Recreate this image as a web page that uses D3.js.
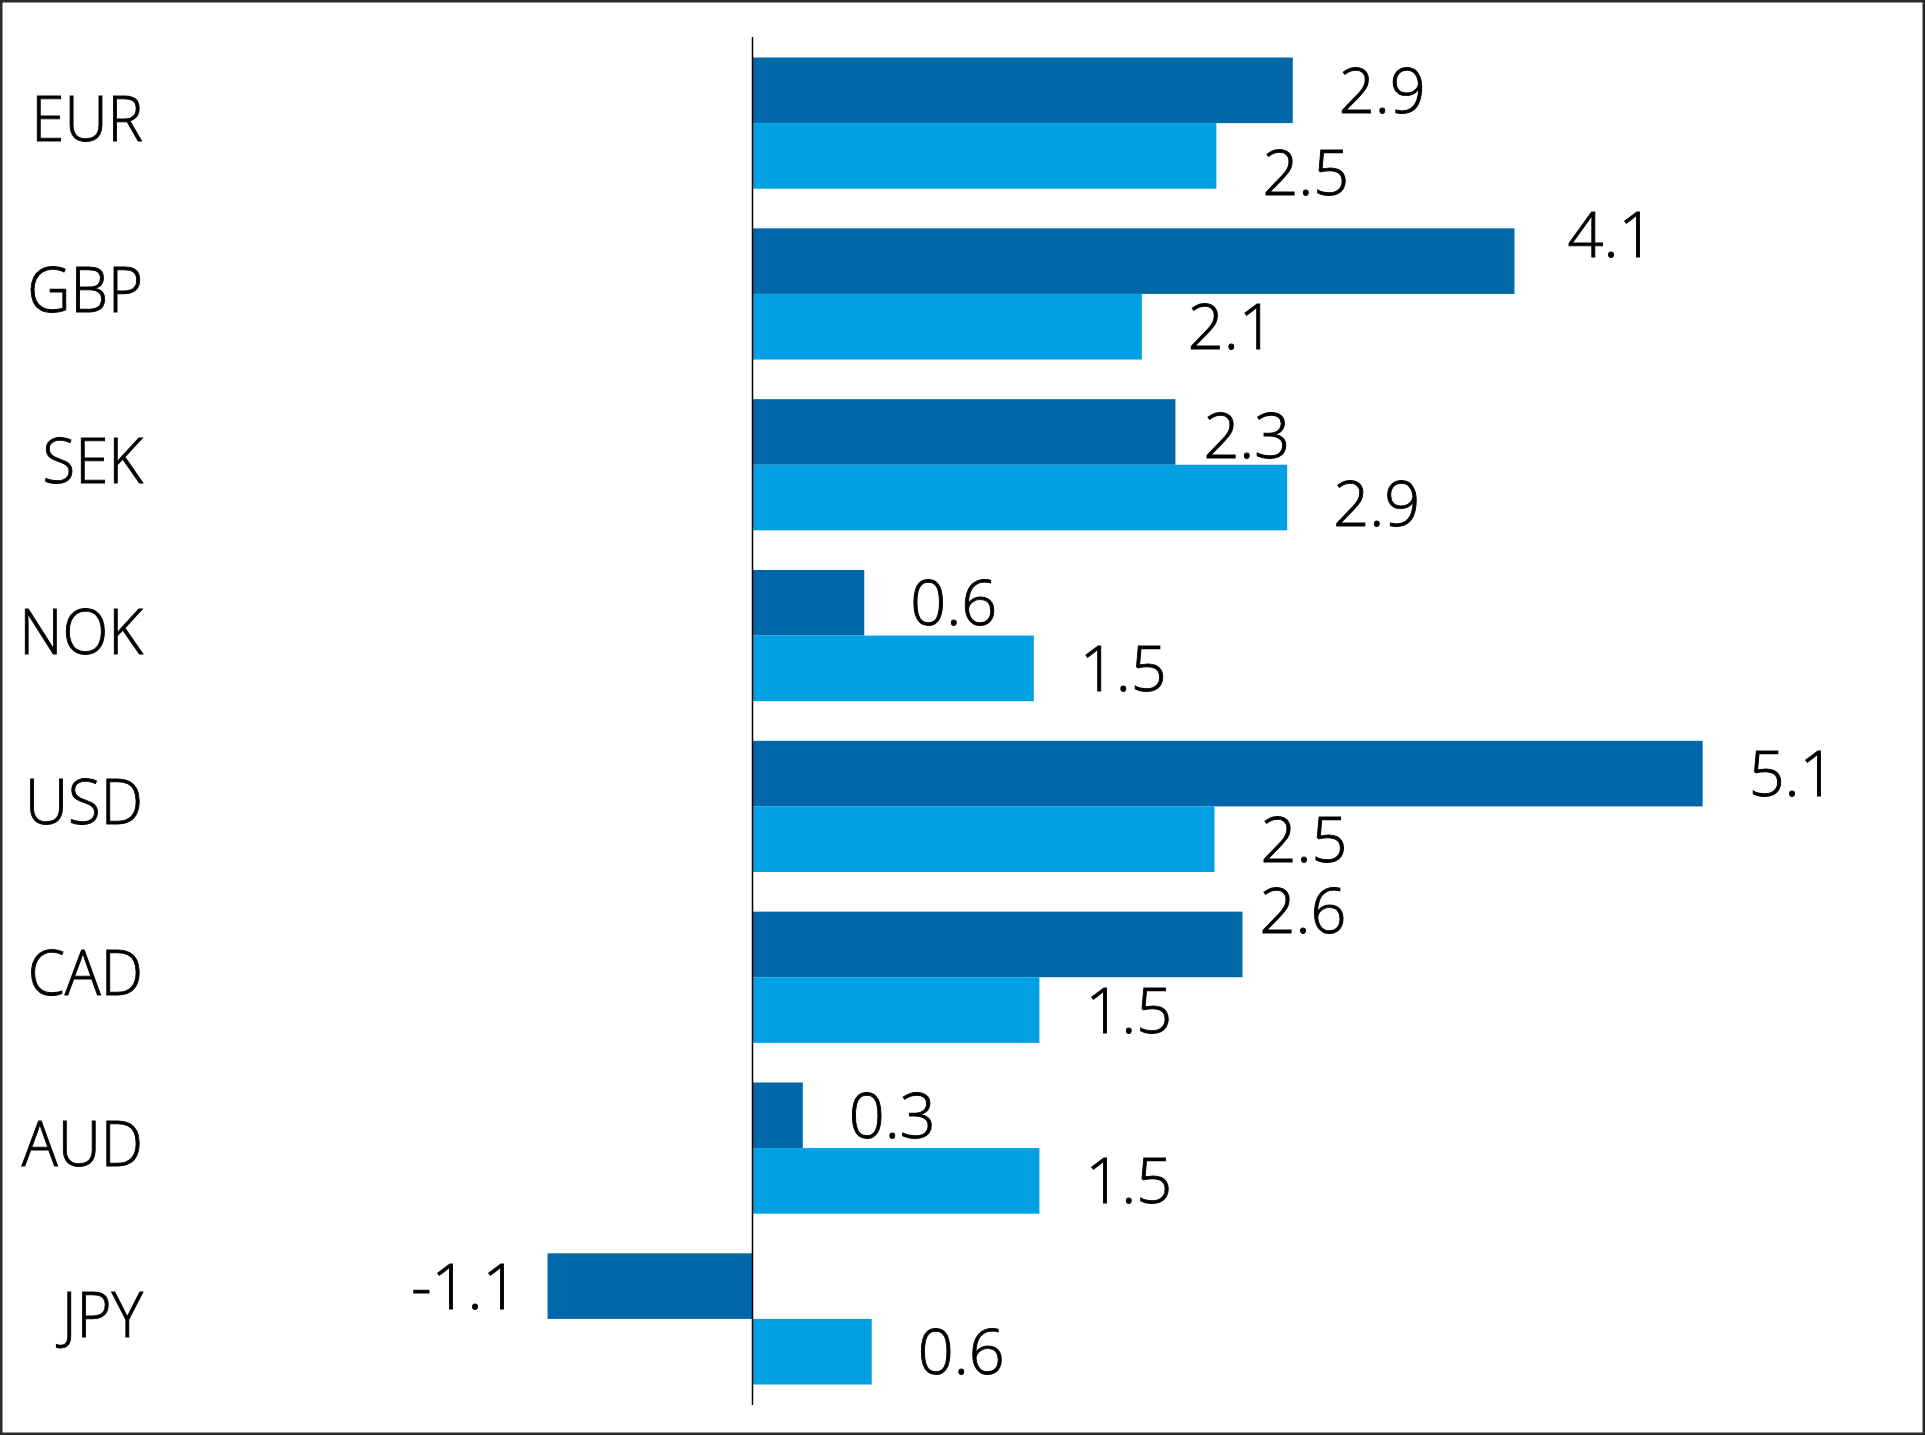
<!DOCTYPE html>
<html>
<head>
<meta charset="utf-8">
<script src="https://cdn.jsdelivr.net/npm/d3@7"></script>
<style>
    body { margin: 0; background: #fff; }
    svg { display: block; }
</style>
</head>
<body>
<div id="chart"></div>
<script>
// Currency categories, top to bottom
var currencies = ['EUR', 'GBP', 'SEK', 'NOK', 'USD', 'CAD', 'AUD', 'JPY'];
// First series (dark blue bars)
var seriesDark = [2.90, 4.09, 2.27, 0.60, 5.10, 2.63, 0.27, -1.10];
// Second series (light blue bars)
var seriesLight = [2.49, 2.09, 2.87, 1.51, 2.48, 1.54, 1.54, 0.64];

// Manual label nudges (dx, dy in px) where the original labels were moved
var labelNudge = {
    'EUR-1': [0, 17],
    'GBP-0': [7, -27],
    'SEK-0': [-18, 4],
    'SEK-1': [0, 6],
    'CAD-0': [-29, -34]
};

/* Draws a grouped horizontal bar chart with value labels
*/
class GroupedBarChart {
    constructor(selector, params) {
        this.width = params.width;
        this.height = params.height;
        this.colors = params.colors;
        this.fontFamily = params.fontFamily;
        this.fontSize = params.fontSize;

        this.svg = d3.select(selector)
            .append('svg')
            .attr('width', this.width)
            .attr('height', this.height);

        // Build the rows from the top level arrays
        this.rows = currencies.map(function(c, i) {
            return { cur: c, values: [seriesDark[i], seriesLight[i]] };
        });

        // One band per currency, spanning the zero line
        this.yScale = d3.scaleBand()
            .domain(currencies)
            .range([37, 1405])
            .paddingInner(0.232)
            .paddingOuter(0.12);

        // Two sub bands inside each currency
        this.subScale = d3.scaleBand()
            .domain([0, 1])
            .range([0, this.yScale.bandwidth()]);

        // Value scale, zero sits at x = 752.5
        this.xScale = d3.scaleLinear()
            .domain([-4, 6])
            .range([752.5 - 4 * 186.3, 752.5 + 6 * 186.3]);
    }

    drawFrame() {
        this.svg.append('rect')
            .attr('x', 1.25)
            .attr('y', 1.25)
            .attr('width', this.width - 2.5)
            .attr('height', this.height - 2.5)
            .attr('fill', '#fff')
            .attr('stroke', '#2b2b2b')
            .attr('stroke-width', 2.5);
    }

    drawBars() {
        var x = this.xScale, y = this.yScale, sub = this.subScale,
            colors = this.colors;

        var groups = this.svg.selectAll('g.row')
            .data(this.rows)
            .enter()
            .append('g')
            .classed('row', true)
            .attr('transform', function(d) { return 'translate(0,' + y(d.cur) + ')'; });

        groups.selectAll('rect')
            .data(function(d) { return d.values; })
            .enter()
            .append('rect')
            .attr('x', function(v) { return x(Math.min(0, v)); })
            .attr('y', function(v, i) { return sub(i); })
            .attr('width', function(v) { return Math.abs(x(v) - x(0)); })
            .attr('height', sub.bandwidth())
            .attr('fill', function(v, i) { return colors[i]; });
    }

    // Shared text styling: light face with a hairline stroke to thicken it
    styleText(sel) {
        sel.attr('font-family', this.fontFamily)
            .attr('font-weight', 300)
            .attr('font-size', this.fontSize + 'px')
            .attr('fill', '#000')
            .attr('stroke', '#000')
            .attr('stroke-width', 0.9);
    }

    drawValueLabels() {
        var x = this.xScale, y = this.yScale, sub = this.subScale;

        var labels = [];
        this.rows.forEach(function(r) {
            r.values.forEach(function(v, i) {
                labels.push({ cur: r.cur, idx: i, v: v });
            });
        });

        this.svg.append('g')
            .selectAll('text')
            .data(labels)
            .enter()
            .append('text')
            // Plain hyphen for negatives, as in the original
            .text(function(d) { return d.v.toFixed(1); })
            .attr('x', function(d) {
                var n = labelNudge[d.cur + '-' + d.idx] || [0, 0];
                return d.v >= 0 ? x(d.v) + 46 + n[0] : x(d.v) - 29 + n[0];
            })
            .attr('y', function(d) {
                var n = labelNudge[d.cur + '-' + d.idx] || [0, 0];
                return y(d.cur) + sub(d.idx) + sub.bandwidth() / 2 + 22.5 + n[1];
            })
            .attr('text-anchor', function(d) { return d.v >= 0 ? 'start' : 'end'; })
            .call(this.styleText.bind(this));
    }

    drawCategoryLabels() {
        var y = this.yScale;
        this.svg.append('g')
            .selectAll('text')
            .data(currencies)
            .enter()
            .append('text')
            .text(function(d) { return d; })
            // Squeeze the labels a bit, the original face is narrower
            .attr('transform', function(d) {
                return 'translate(143,' + (y(d) + y.bandwidth() / 2 + 18) + ') scale(0.95,1)';
            })
            .attr('text-anchor', 'end')
            .call(this.styleText.bind(this));
    }

    drawZeroLine() {
        var x = this.xScale;
        this.svg.append('line')
            .attr('x1', x(0))
            .attr('x2', x(0))
            .attr('y1', 37)
            .attr('y2', 1405)
            .attr('stroke', '#000')
            .attr('stroke-width', 1.5);
    }

    draw() {
        this.drawFrame();
        this.drawBars();
        this.drawZeroLine();
        this.drawValueLabels();
        this.drawCategoryLabels();
    }
}

var chart = new GroupedBarChart('#chart', {
    width: 1925,
    height: 1435,
    colors: ['#0068a9', '#00a0e2'],
    fontFamily: '"Open Sans", "Noto Sans", sans-serif',
    fontSize: 63
});
chart.draw();
</script>
</body>
</html>
